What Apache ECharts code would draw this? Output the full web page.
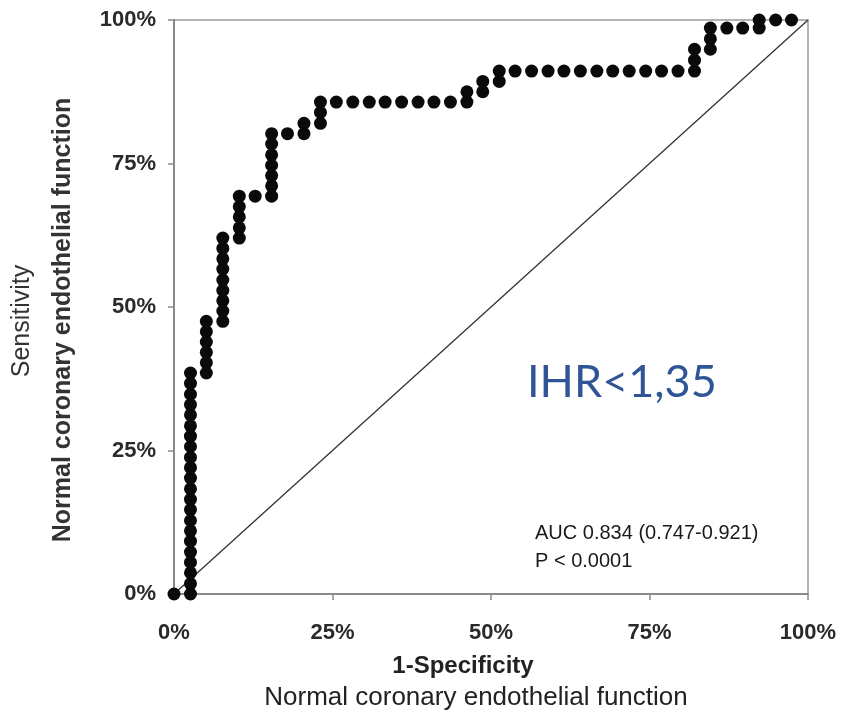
<!DOCTYPE html>
<html><head><meta charset="utf-8">
<script src="https://cdn.jsdelivr.net/npm/echarts@6/dist/echarts.min.js"></script>
<style>html,body{margin:0;padding:0;background:#fff}#c{width:843px;height:718px}</style>
</head><body><div id="c"></div>
<script>
// ROC points, read column by column: x = 1-specificity (%), y = sensitivity (%)
const colX = [0, 2.6, 5.1, 7.7, 10.3, 12.8, 15.4, 17.9, 20.5, 23.1,
  25.6, 28.2, 30.8, 33.3, 35.9, 38.5, 41.0, 43.6,
  46.2, 48.7, 51.3,
  53.8, 56.4, 59.0, 61.5, 64.1, 66.7, 69.2, 71.8, 74.4, 76.9, 79.5,
  82.1, 84.6, 87.2, 89.7, 92.3, 94.9, 97.4];
const colY = [
  [0],
  [0, 1.8, 3.7, 5.5, 7.3, 9.2, 11.0, 12.8, 14.7, 16.5, 18.3, 20.2, 22.0, 23.8, 25.7, 27.5, 29.3, 31.2, 33.0, 34.8, 36.7, 38.5],
  [38.5, 40.3, 42.1, 43.9, 45.7, 47.5],
  [47.5, 49.3, 51.1, 52.9, 54.7, 56.6, 58.4, 60.2, 62.0],
  [62.0, 63.8, 65.7, 67.5, 69.3],
  [69.3],
  [69.3, 71.1, 72.9, 74.7, 76.5, 78.4, 80.2],
  [80.2],
  [80.2, 82.0],
  [82.0, 83.9, 85.7],
  [85.7], [85.7], [85.7], [85.7], [85.7], [85.7], [85.7], [85.7],
  [85.7, 87.5],
  [87.5, 89.3],
  [89.3, 91.1],
  [91.1], [91.1], [91.1], [91.1], [91.1], [91.1], [91.1], [91.1], [91.1], [91.1], [91.1],
  [91.1, 93.0, 94.9],
  [94.9, 96.7, 98.6],
  [98.6], [98.6],
  [98.6, 100],
  [100], [100]
];
const diagonalX = [0, 100];
const diagonalY = [0, 100];
const tickValues = [0, 25, 50, 75, 100];
const tickLabels = ['0%', '25%', '50%', '75%', '100%'];
const xTitle = ['1-Specificity', 'Normal coronary endothelial function'];
const yTitle = ['Sensitivity', 'Normal coronary endothelial function'];
const statLines = ['AUC 0.834 (0.747-0.921)', 'P < 0.0001'];
const markerLabel = 'IHR<1,35';

const rocPoints = [];
colX.forEach((x, i) => colY[i].forEach(y => rocPoints.push([x, y])));
const diagPoints = diagonalX.map((x, i) => [x, diagonalY[i]]);
const fmt = v => tickLabels[tickValues.indexOf(v)] || '';

const axisCommon = {
  type: 'value', min: 0, max: 100, interval: 25,
  axisLine: { show: true, lineStyle: { color: '#8a8a8a', width: 2 } },
  axisTick: { show: true, inside: false, length: 6, lineStyle: { color: '#8a8a8a', width: 1.5 } },
  splitLine: { show: false },
  axisLabel: { formatter: fmt, color: '#2a2a2a', fontSize: 22, fontWeight: 'bold', fontFamily: 'Liberation Sans, Arial, sans-serif' }
};

const chart = echarts.init(document.getElementById('c'), null, { renderer: 'canvas' });
chart.setOption({
  animation: false,
  backgroundColor: '#fff',
  grid: { left: 174, right: 35, top: 20, bottom: 124, show: true, borderColor: '#9a9a9a', borderWidth: 1.5 },
  xAxis: Object.assign({}, axisCommon, { axisLabel: Object.assign({}, axisCommon.axisLabel, { margin: 28 }) }),
  yAxis: Object.assign({}, axisCommon, { axisLabel: Object.assign({}, axisCommon.axisLabel, { margin: 18 }) }),
  series: [
    { type: 'line', data: diagPoints, showSymbol: false, symbol: 'none', lineStyle: { color: '#333', width: 1.3 }, z: 1 },
    { type: 'scatter', data: rocPoints, symbol: 'circle', symbolSize: 13, clip: false, itemStyle: { color: '#0a0a0a', opacity: 1 }, z: 3 }
  ],
  graphic: [
    { type: 'text', x: 463, y: 666, style: { text: xTitle[0], align: 'center', verticalAlign: 'middle', font: 'bold 24px "Liberation Sans", Arial, sans-serif', fill: '#222' } },
    { type: 'text', x: 476, y: 698, style: { text: xTitle[1], align: 'center', verticalAlign: 'middle', font: '26px "Liberation Sans", Arial, sans-serif', fill: '#222' } },
    { type: 'text', x: 22, y: 321, rotation: Math.PI / 2, style: { text: yTitle[0], align: 'center', verticalAlign: 'middle', font: '25px "Liberation Sans", Arial, sans-serif', fill: '#333' } },
    { type: 'text', x: 63, y: 320, rotation: Math.PI / 2, style: { text: yTitle[1], align: 'center', verticalAlign: 'middle', font: 'bold 25px "Liberation Sans", Arial, sans-serif', fill: '#333' } },
    { type: 'text', x: 535, y: 533, style: { text: statLines[0], align: 'left', verticalAlign: 'middle', font: '20px "Liberation Sans", Arial, sans-serif', fill: '#1a1a1a' } },
    { type: 'text', x: 535, y: 561, style: { text: statLines[1], align: 'left', verticalAlign: 'middle', font: '20px "Liberation Sans", Arial, sans-serif', fill: '#1a1a1a' } },
    { type: 'text', x: 527, y: 382, style: { text: markerLabel, align: 'left', verticalAlign: 'middle', font: '45px Lato, "Open Sans", sans-serif', fill: '#2f5597' } }
  ]
});
</script>
</body></html>
